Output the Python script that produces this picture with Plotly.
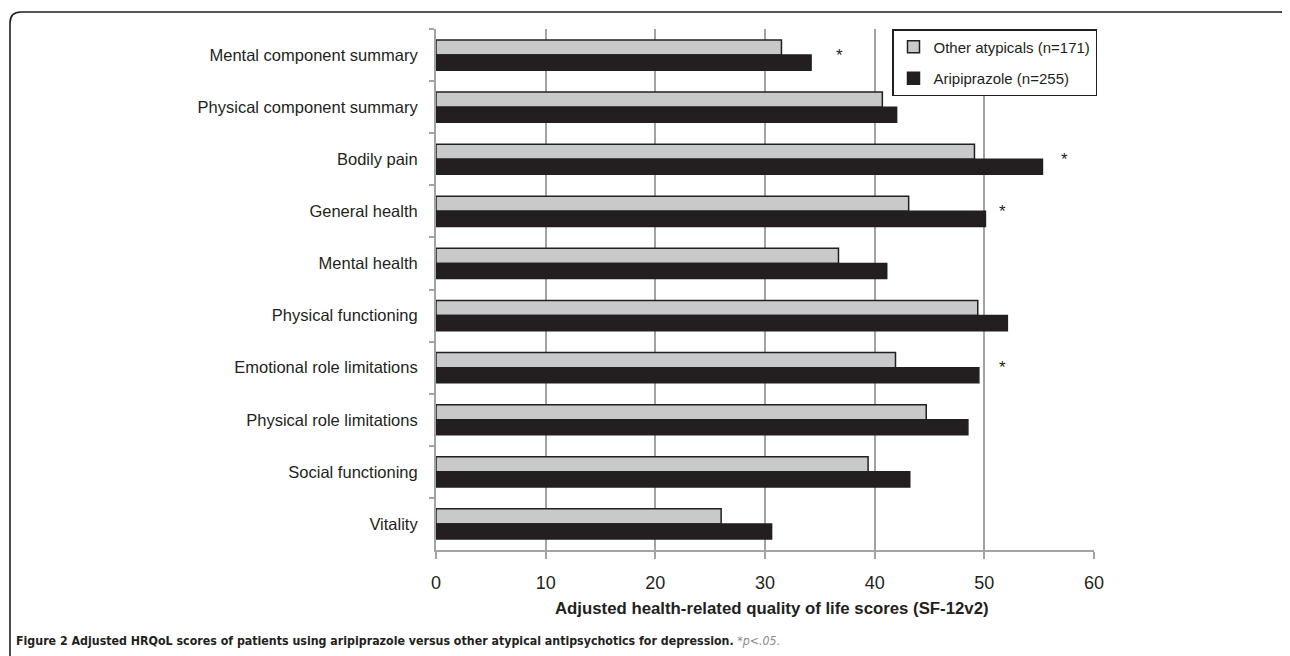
import plotly.graph_objects as go

categories = [
    "Mental component summary",
    "Physical component summary",
    "Bodily pain",
    "General health",
    "Mental health",
    "Physical functioning",
    "Emotional role limitations",
    "Physical role limitations",
    "Social functioning",
    "Vitality",
]
other_atypicals = [31.5, 40.7, 49.1, 43.1, 36.7, 49.4, 41.9, 44.7, 39.4, 26.0]
aripiprazole = [34.2, 42.0, 55.3, 50.1, 41.1, 52.1, 49.5, 48.5, 43.2, 30.6]
series_names = ["Other atypicals (n=171)", "Aripiprazole (n=255)"]
star_categories = ["Mental component summary", "Bodily pain", "General health", "Emotional role limitations"]
star_x = [36.8, 57.3, 51.7, 51.7]
x_ticks = [0, 10, 20, 30, 40, 50, 60]

# page body has an 8px margin: work in screen pixels, convert with OFF
OFF = 8
W, H = 1290 - OFF, 656 - OFF
L, R, T, B = 436, 1094, 29, 550  # screen pixels of plot area
DARK = "#231f20"
GRID = "#a3a3a3"
FONT = "Liberation Sans, Arial, sans-serif"

fig = go.Figure()
fig.add_trace(go.Bar(
    y=categories, x=other_atypicals, orientation="h", name=series_names[0],
    marker=dict(color="#c8c9cb", line=dict(color=DARK, width=1.5)),
    legendgroup="a",
))
fig.add_trace(go.Bar(
    y=categories, x=aripiprazole, orientation="h", name=series_names[1],
    marker=dict(color=DARK, line=dict(color=DARK, width=1.5)),
    legendgroup="b",
))

for c, sx in zip(star_categories, star_x):
    fig.add_annotation(x=sx, y=c, xref="x", yref="y", text="*", showarrow=False,
                       font=dict(family=FONT, size=17, color=DARK), yshift=0)

def px_to_paper_x(px):
    return (px - L) / (R - L)

def px_to_paper_y(py):
    return (B - py) / (B - T)

# x-axis title
fig.add_annotation(x=px_to_paper_x(772), y=px_to_paper_y(608), xref="paper", yref="paper",
                   text="<b>Adjusted health-related quality of life scores (SF-12v2)</b>",
                   showarrow=False, font=dict(family=FONT, size=16.8, color=DARK),
                   xanchor="center", yanchor="middle")

# caption
CAP_FONT = "Liberation Sans Narrow, DejaVu Sans Condensed, Arial Narrow, Liberation Sans, sans-serif"
fig.add_annotation(x=px_to_paper_x(14), y=px_to_paper_y(641), xref="paper", yref="paper",
                   text="<b>Figure 2 Adjusted HRQoL scores of patients using aripiprazole versus other atypical antipsychotics for depression.</b> "
                        "<i><span style='color:#8a8a8a'>*p&lt;.05.</span></i>",
                   showarrow=False, font=dict(family=CAP_FONT, size=12.3, color=DARK),
                   xanchor="left", yanchor="middle")

# outer frame
def P(px, py):
    return f"{px_to_paper_x(px):.5f},{px_to_paper_y(py):.5f}"

path = (f"M {P(10, 670)} L {P(10, 23)} Q {P(10, 12)} {P(21, 12)} "
        f"L {P(1280, 12)} Q {P(1289, 12)} {P(1290, 22)}")
fig.add_shape(type="path", path=path, xref="paper", yref="paper",
              line=dict(color=DARK, width=1.6), layer="below")

fig.update_layout(
    width=W, height=H,
    margin=dict(l=L - OFF, r=(W + OFF) - R, t=T - OFF, b=(H + OFF) - B, pad=0),
    paper_bgcolor="white", plot_bgcolor="white",
    barmode="group", bargap=0.42, bargroupgap=0,
    font=dict(family=FONT, color=DARK),
    showlegend=True,
    legend=dict(
        x=px_to_paper_x(1097), y=px_to_paper_y(29), xanchor="right", yanchor="top",
        bgcolor="white", bordercolor=DARK, borderwidth=1.5,
        font=dict(family=FONT, size=15, color=DARK),
        tracegroupgap=9, traceorder="grouped",
    ),
    xaxis=dict(
        range=[0, 60], tickvals=x_ticks, ticktext=[str(v) for v in x_ticks],
        showgrid=True, gridcolor=GRID, gridwidth=2,
        showline=True, linecolor=GRID, linewidth=2,
        ticks="outside", ticklen=7, tickcolor=GRID, tickwidth=2,
        tickfont=dict(family=FONT, size=18, color=DARK),
        ticklabelstandoff=8,
        zeroline=False, fixedrange=True,
    ),
    yaxis=dict(
        autorange="reversed", categoryorder="array", categoryarray=categories,
        showgrid=False, showline=True, linecolor=GRID, linewidth=2,
        ticks="outside", ticklen=5, tickcolor=GRID, tickwidth=1.5,
        tickson="boundaries",
        tickfont=dict(family=FONT, size=16.5, color=DARK),
        ticklabelstandoff=13,
        fixedrange=True,
    ),
)

fig.write_html("out.html")
